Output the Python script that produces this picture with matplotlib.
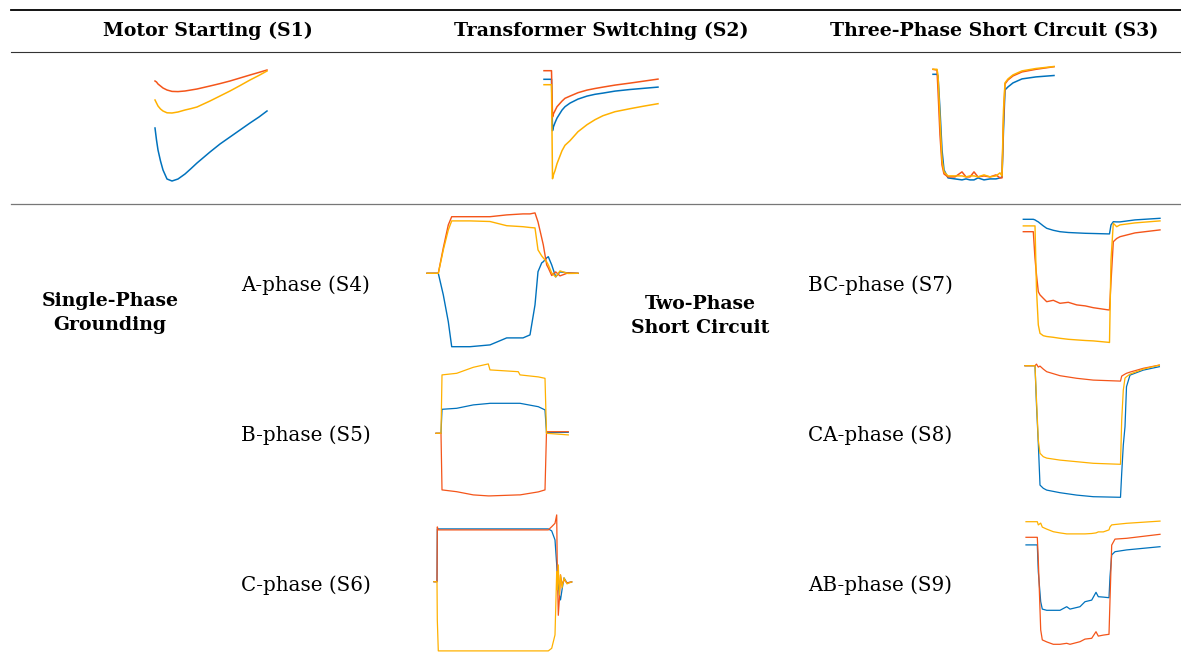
import matplotlib
matplotlib.use("Agg")
import matplotlib.pyplot as plt
from matplotlib.lines import Line2D

plt.rcParams['font.family'] = ['DejaVu Serif']

W, H = 1181, 664
BLUE, RED, YELLOW = '#0072BD', '#F4551A', '#FFB100'

# ---- RMS voltage traces (p.u.) vs time (s), phases A/B/C ----
# S1 motor starting
t_s1 = [0, .015, .03, .055, .08, .12, .17, .23, .30, .36, .42, .55, .65, .75, .85, .95, 1.04, 1.12]
a_s1 = [.71, .65, .60, .545, .50, .455, .445, .455, .48, .507, .535, .59, .63, .665, .70, .735, .765, .795]
b_s1 = [.945, .94, .93, .92, .91, .90, .893, .892, .895, .90, .905, .92, .932, .945, .96, .975, .988, 1.0]
c_s1 = [.85, .835, .82, .805, .795, .786, .785, .79, .80, .807, .815, .845, .87, .895, .922, .95, .973, .995]

# S2 transformer switching
t_s2 = [0, .075, .085, .095, .11, .13, .18, .21, .26, .34, .43, .51, .59, .71, .86, 1.0, 1.14]
a_s2 = [.957, .957, .70, .72, .74, .763, .803, .82, .838, .858, .873, .882, .888, .898, .906, .912, .918]
b_s2 = [1, 1, .768, .785, .80, .82, .848, .862, .873, .89, .903, .911, .918, .928, .938, .948, .958]
c_s2 = [.93, .93, .46, .48, .50, .535, .60, .627, .65, .695, .73, .755, .775, .795, .81, .823, .835]

# S3 three-phase short circuit
t_s3 = [0, .04, .05, .07, .09, .11, .15, .22, .29, .33, .37, .41, .45, .51,
        .57, .63, .67, .69, .705, .72, .75, .80, .89, 1.03, 1.21]
a_s3 = [.975, .975, .967, .797, .597, .497, .457, .452, .447, .452, .447, .447, .457,
        .447, .452, .452, .457, .462, .697, .897, .912, .932, .952, .962, .969]
b_s3 = [1.0, .996, .897, .672, .522, .477, .462, .462, .487, .462, .462, .487, .462,
        .467, .462, .472, .457, .457, .747, .927, .947, .967, .987, 1.0, 1.013]
c_s3 = [1.0, 1.0, .972, .747, .547, .487, .467, .467, .467, .462, .467, .467, .462,
        .472, .462, .467, .482, .467, .797, .932, .952, .972, .992, 1.004, 1.014]

# S4 A-phase grounding
t_s4 = [0, .113, .163, .213, .247, .43, .63, .797, .96, 1.03, 1.08, 1.11, 1.147,
        1.163, 1.197, 1.213, 1.247, 1.287, 1.33, 1.41, 1.51]
a_s4 = [1, 1, .892, .758, .633, .633, .642, .677, .677, .692, .842, 1.008, 1.052,
        1.058, 1.077, 1.083, 1.042, .982, 1.007, 1.002, 1.0]
b_s4 = [1, 1, 1.127, 1.242, 1.283, 1.283, 1.283, 1.292, 1.297, 1.297, 1.302, 1.257,
        1.177, 1.142, 1.042, 1.027, .989, 1.007, .987, 1.002, 1.0]
c_s4 = [1, 1, 1.117, 1.217, 1.262, 1.262, 1.259, 1.238, 1.233, 1.229, 1.227, 1.117,
        1.087, 1.077, 1.057, 1.042, 1.002, .982, 1.012, .999, 1.0]

# S5 B-phase grounding
t_s5 = [0, .05, .06, .207, .373, .523, .54, .823, .84, 1.023, 1.09, 1.105, 1.323]
a_s5 = [1, 1, 1.12, 1.125, 1.142, 1.149, 1.15, 1.15, 1.15, 1.133, 1.117, 1.003, 1.005]
b_s5 = [1, 1, .717, .708, .692, .687, .687, .692, .692, .707, .717, 1.008, 1.008]
c_s5 = [1, 1, 1.292, 1.30, 1.33, 1.347, 1.317, 1.308, 1.292, 1.282, 1.275, 1.0, .992]

# S6 C-phase grounding
t_s6 = [0, .03, .033, .043, .36, .76, 1.143, 1.177, 1.21, 1.227, 1.233, 1.243,
        1.253, 1.265, 1.28, 1.30, 1.33, 1.377]
a_s6 = [1, 1, 1.264, 1.264, 1.264, 1.264, 1.264, 1.254, 1.209, 1.084, 1.034, .984,
        .934, .909, .959, 1.019, .994, .999]
b_s6 = [1, 1, 1.274, 1.259, 1.259, 1.259, 1.259, 1.275, 1.292, 1.334, 1.05, .832,
        .907, 1.034, .984, 1.009, .994, .999]
c_s6 = [1, 1, .809, .654, .654, .654, .654, .667, .734, 1.05, .959, 1.084, .934,
        1.034, .969, 1.019, .989, .999]

# S7 BC-phase short circuit
t_s7 = [0, .1, .117, .132, .15, .167, .20, .234, .30, .367, .45, .534, .62, .70, .85, .862, .877,
        .90, .934, .967, 1.117, 1.367]
a_s7 = [1, 1, .997, .992, .987, .98, .967, .955, .945, .938, .934, .932, .93, .929, .927, .927, .972,
        .988, .987, .987, .997, 1.005]
b_s7 = [.938, .938, .805, .722, .638, .622, .605, .588, .595, .58, .585, .572, .567, .558, .547, .547,
        .688, .888, .904, .913, .932, .947]
c_s7 = [.967, .967, .967, .647, .472, .43, .418, .414, .41, .405, .40, .397, .394, .392, .385, .384,
        .797, .98, .963, .972, .982, .992]

# S8 CA-phase short circuit
t_s8 = [0, .10, .115, .133, .15, .183, .217, .35, .517, .683, .955, .967, .983,
        1.0, 1.015, 1.05, 1.183, 1.343]
a_s8 = [1, 1, .803, .612, .403, .387, .378, .365, .353, .345, .342, .462, .603,
        .695, .895, .953, .978, .995]
b_s8 = [1, 1, 1.008, .993, .998, .983, .97, .95, .937, .928, .923, .948, .953,
        .958, .962, .968, .987, 1.003]
c_s8 = [1, 1, .828, .628, .562, .545, .538, .528, .52, .512, .507, .728, .878,
        .938, .945, .958, .983, 1.003]

# S9 AB-phase short circuit
t_s9 = [0, .113, .123, .147, .163, .207, .273, .34, .407, .44, .54, .59, .657, .70,
        .723, .773, .83, .84, .857, .89, 1.007, 1.34]
a_s9 = [.884, .884, .75, .6, .563, .557, .557, .557, .575, .563, .575, .60, .608,
        .647, .625, .623, .62, .725, .834, .85, .859, .875]
b_s9 = [.922, .922, .809, .459, .409, .399, .387, .387, .392, .387, .400, .413,
        .417, .45, .428, .433, .437, .608, .883, .913, .917, .937]
c_s9 = [1, 1, .984, .993, .973, .963, .95, .944, .939, .939, .939, .939, .941,
        .944, .949, .949, .959, .974, .984, .986, .992, 1.003]

headers = ["Motor Starting (S1)", "Transformer Switching (S2)",
           "Three-Phase Short Circuit (S3)"]
groups = ["Single-Phase\nGrounding", "Two-Phase\nShort Circuit"]
left_labels = ["A-phase (S4)", "B-phase (S5)", "C-phase (S6)"]
right_labels = ["BC-phase (S7)", "CA-phase (S8)", "AB-phase (S9)"]

fig = plt.figure(figsize=(W / 100, H / 100), dpi=100)


def mini(origin, box, t, a, b, c, lw):
    # origin: pixel spot of (t=0, v=1.0); box: left, top, right, bottom in px
    x0, yref = origin
    l, tp, r, bt = box
    ax = fig.add_axes([l / W, 1 - bt / H, (r - l) / W, (bt - tp) / H])
    ax.set_xlim((l - x0) / 100, (r - x0) / 100)
    ax.set_ylim(1 - 0.005 * (bt - yref), 1 - 0.005 * (tp - yref))
    ax.plot(t, a, color=BLUE, lw=lw)
    ax.plot(t, b, color=RED, lw=lw)
    ax.plot(t, c, color=YELLOW, lw=lw)
    ax.axis('off')
    return ax


mini((155, 70), (140, 60, 280, 195), t_s1, a_s1, b_s1, c_s1, 1.1)
mini((544, 70.7), (530, 60, 670, 195), t_s2, a_s2, b_s2, c_s2, 1.1)
mini((933, 69.3), (920, 60, 1070, 195), t_s3, a_s3, b_s3, c_s3, 1.1)
mini((427, 273.3), (415, 205, 590, 355), t_s4, a_s4, b_s4, c_s4, 1.0)
mini((436, 433.3), (425, 355, 585, 505), t_s5, a_s5, b_s5, c_s5, 0.9)
mini((434, 581.7), (425, 505, 585, 660), t_s6, a_s6, b_s6, c_s6, 0.9)
mini((1023.3, 219.3), (1010, 205, 1175, 355), t_s7, a_s7, b_s7, c_s7, 1.0)
mini((1025, 365.7), (1010, 355, 1175, 505), t_s8, a_s8, b_s8, c_s8, 0.9)
mini((1026, 521.7), (1010, 505, 1175, 660), t_s9, a_s9, b_s9, c_s9, 0.9)

# table rules
for y, lw, col in [(10, 1.3, 'black'), (52, 0.8, '#333333'), (204, 0.9, '#777777')]:
    fig.add_artist(Line2D([11 / W, 1.0], [1 - y / H, 1 - y / H], color=col, lw=lw))

fs_b, fs_r = 13.6, 14.3
for x, s in zip([208, 601, 994], headers):
    fig.text(x / W, 1 - 31 / H, s, ha='center', va='center', fontsize=fs_b, fontweight='bold')

fig.text(110 / W, 1 - 313 / H, groups[0], ha='center', va='center', fontsize=fs_b,
         fontweight='bold', linespacing=1.45)
fig.text(700 / W, 1 - 316 / H, groups[1], ha='center', va='center', fontsize=fs_b,
         fontweight='bold', linespacing=1.45)

for y, s in zip([285, 435, 585], left_labels):
    fig.text(306 / W, 1 - y / H, s, ha='center', va='center', fontsize=fs_r)
for y, s in zip([285, 435, 585], right_labels):
    fig.text(880 / W, 1 - y / H, s, ha='center', va='center', fontsize=fs_r)

fig.savefig("out.png", dpi=100)
